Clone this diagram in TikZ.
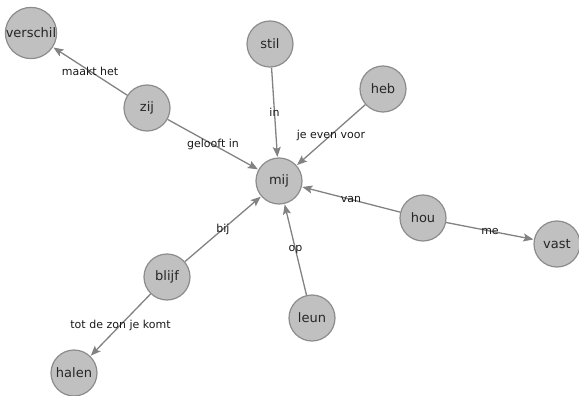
\documentclass[tikz,border=0pt]{standalone}
\usepackage{fontspec}
\setmainfont{DejaVu Sans}
\usetikzlibrary{arrows.meta}
\definecolor{nodefill}{RGB}{192,192,192}
\definecolor{nodeline}{RGB}{140,140,140}
\definecolor{edgecol}{RGB}{130,130,130}
\begin{document}
\begin{tikzpicture}[x=1pt,y=-1pt,
  word/.style={circle,draw=nodeline,fill=nodefill,line width=1.2pt,minimum size=46pt,inner sep=0pt,font=\fontsize{13}{15}\selectfont,text=black!85},
  rel/.style={draw=edgecol,line width=1.3pt,-{Stealth[length=10pt,width=8pt,inset=2pt]},shorten >=0.5pt},
  lbl/.style={font=\fontsize{11}{13}\selectfont,text=black!90,inner sep=0pt,midway}]
\useasboundingbox (0,0) rectangle (579,396);
\node[word] (verschil) at (31,33) {verschil};
\node[word] (zij) at (147,108) {zij};
\node[word] (stil) at (270,44) {stil};
\node[word] (heb) at (383,89) {heb};
\node[word] (mij) at (279,181) {mij};
\node[word] (hou) at (423,218) {hou};
\node[word] (vast) at (557,244) {vast};
\node[word] (blijf) at (167,277) {blijf};
\node[word] (leun) at (312,318) {leun};
\node[word] (halen) at (74,373) {halen};
\draw[rel] (zij) -- node[lbl] {maakt het} (verschil);
\draw[rel] (zij) -- node[lbl] {gelooft in} (mij);
\draw[rel] (stil) -- node[lbl] {in} (mij);
\draw[rel] (heb) -- node[lbl] {je even voor} (mij);
\draw[rel] (hou) -- node[lbl] {van} (mij);
\draw[rel] (hou) -- node[lbl] {me} (vast);
\draw[rel] (blijf) -- node[lbl] {bij} (mij);
\draw[rel] (leun) -- node[lbl] {op} (mij);
\draw[rel] (blijf) -- node[lbl] {tot de zon je komt} (halen);
\end{tikzpicture}
\end{document}
